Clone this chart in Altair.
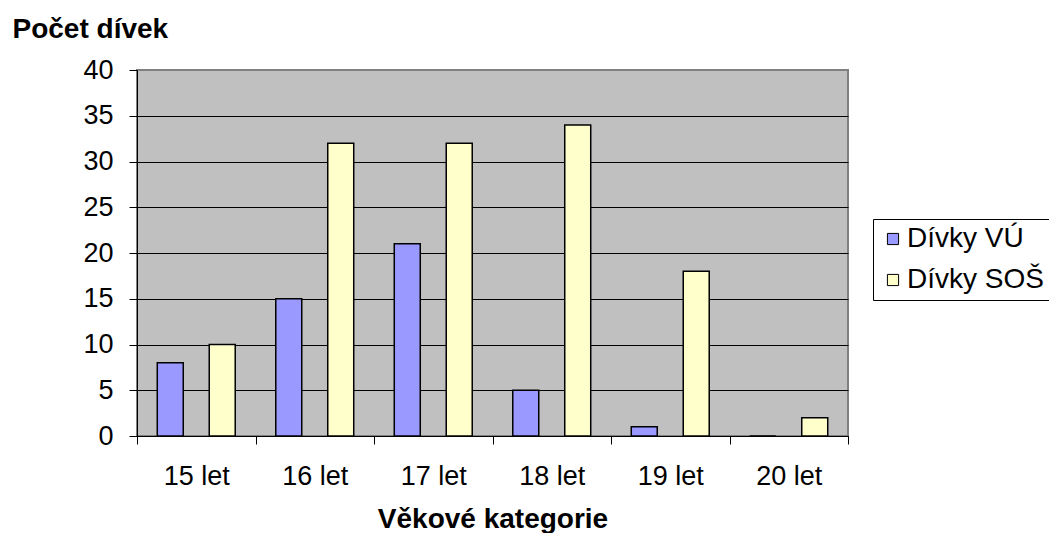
import altair as alt
import pandas as pd

categories = ["15 let", "16 let", "17 let", "18 let", "19 let", "20 let"]
series = ["Dívky VÚ", "Dívky SOŠ"]
values_vu = [8, 15, 21, 5, 1, 0]
values_sos = [10, 32, 32, 34, 18, 2]
y_ticks = [0, 5, 10, 15, 20, 25, 30, 35, 40]
colors = ["#9999FF", "#FFFFCC"]

rows = []
for c, a, b in zip(categories, values_vu, values_sos):
    rows.append({"kat": c, "serie": series[0], "pocet": a})
    rows.append({"kat": c, "serie": series[1], "pocet": b})
df = pd.DataFrame(rows)

FONT = "Liberation Sans"

chart = alt.Chart(df).mark_bar(stroke="black", strokeWidth=1.5).encode(
    x=alt.X("kat:N", sort=categories,
            scale=alt.Scale(paddingInner=0, paddingOuter=0),
            axis=alt.Axis(title="Věkové kategorie", labelAngle=0, tickBand="extent",
                          tickSize=8, tickColor="black", domainColor="black",
                          labelFontSize=27, labelFont=FONT, labelColor="black",
                          labelPadding=19, titleFont=FONT, titleFontSize=28,
                          titleFontWeight="bold", titleColor="black",
                          titleBaseline="alphabetic", titleY=91)),
    xOffset=alt.XOffset("serie:N", sort=series,
                        scale=alt.Scale(paddingInner=0.5, paddingOuter=0.39)),
    y=alt.Y("pocet:Q", scale=alt.Scale(domain=[0, 40], nice=False),
            axis=alt.Axis(title="Počet dívek", values=y_ticks, tickSize=8,
                          tickColor="black", domainColor="black",
                          gridColor=alt.condition(alt.datum.value == 40, alt.value("#808080"), alt.value("black")),
                          gridWidth=1, labelFontSize=27, labelFont=FONT,
                          labelColor="black", labelPadding=16,
                          titleAngle=0, titleAlign="left", titleBaseline="alphabetic",
                          titleX=-125, titleY=-33, titleFont=FONT, titleFontSize=28,
                          titleFontWeight="bold", titleColor="black")),
    color=alt.Color("serie:N", sort=series,
                    scale=alt.Scale(domain=series, range=colors),
                    legend=alt.Legend(orient="none", legendX=736, legendY=149, title=None,
                                      labelFontSize=28, labelFont=FONT, labelColor="black",
                                      symbolType="square", symbolSize=125,
                                      symbolStrokeColor="black", symbolStrokeWidth=1,
                                      labelOffset=0,
                                      strokeColor="black", fillColor="white",
                                      padding=6, rowPadding=13,
                                      direction="vertical")),
).properties(
    width=711, height=366,
    autosize=alt.AutoSizeParams(type="none"),
    padding={"left": 129, "top": 62, "right": 201, "bottom": 97},
).configure_view(
    fill="#C0C0C0", stroke="#808080", strokeWidth=2
)

chart.save("out.html", embed_options={"renderer": "svg", "actions": False})
